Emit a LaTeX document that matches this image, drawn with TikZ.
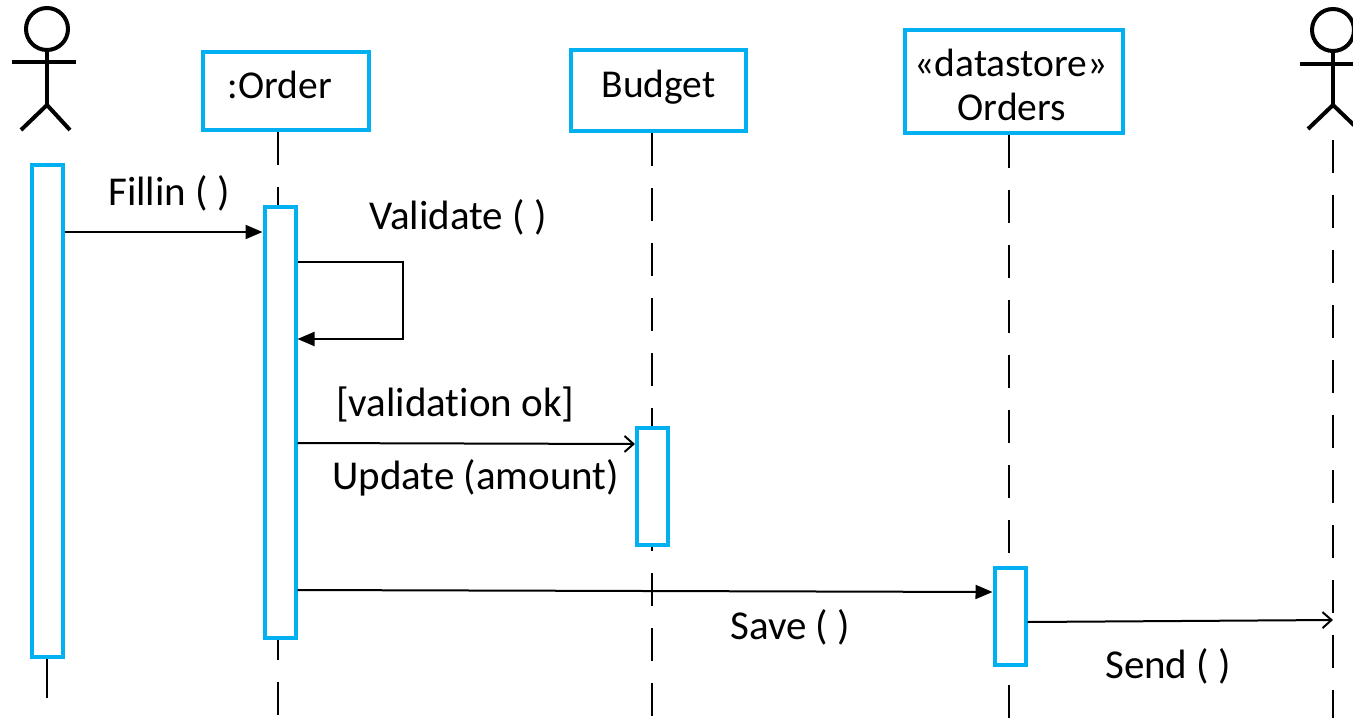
\documentclass[tikz,border=0pt]{standalone}
\usepackage{fontspec}
\setmainfont[Ligatures={NoCommon}]{Carlito}
\usetikzlibrary{arrows.meta}
\definecolor{umlblue}{HTML}{00B0F0}
\tikzset{
  obj/.style={draw=umlblue, line width=4pt, fill=white, inner sep=0pt},
  objtxt/.style={font=\fontsize{39.5}{44}\selectfont, inner sep=0pt, anchor=base},
  act/.style={draw=umlblue, line width=4pt, fill=white, inner sep=0pt, minimum width=31pt},
  life/.style={black, line width=2pt, dash pattern=on 33pt off 22pt},
  msg/.style={black, line width=2pt},
  lbl/.style={font=\fontsize{41}{46}\selectfont, inner sep=0pt, anchor=base west},
  sync/.style={msg, -{Triangle[length=17pt,width=14pt]}},
  async/.style={msg, -{Straight Barb[length=9pt,width=16pt,line width=2pt]}},
  stick/.style={black, line width=4pt}
}
\begin{document}
\begin{tikzpicture}[x=1pt,y=-1pt]
\useasboundingbox (0,0) rectangle (1353,718);
% actors
\coordinate (a1) at (47,0);
\draw[stick] ([shift={(0,29)}]a1) circle[radius=21];
\draw[stick] ([shift={(-35,62)}]a1) -- ([shift={(29,62)}]a1);
\draw[stick] ([shift={(0,50)}]a1) -- ([shift={(0,105)}]a1);
\draw[stick] ([shift={(-26,130)}]a1) -- ([shift={(0,105)}]a1) -- ([shift={(23,130)}]a1);
\coordinate (a2) at (1333,0);
\draw[stick] ([shift={(0,30)}]a2) circle[radius=21];
\draw[stick] ([shift={(-33,64)}]a2) -- ([shift={(33,64)}]a2);
\draw[stick] ([shift={(0,51)}]a2) -- ([shift={(0,105)}]a2);
\draw[stick] ([shift={(-25,129)}]a2) -- ([shift={(0,105)}]a2) -- ([shift={(25,129)}]a2);
% object boxes
\node[obj, minimum width=166pt, minimum height=78pt] (order) at (286,91) {};
\node[objtxt] (ordert) at (280,98) {:Order};
\node[obj, minimum width=175pt, minimum height=81pt] (budget) at (658.5,90.5) {};
\node[objtxt] (budgett) at (658.5,97) {Budget};
\node[obj, minimum width=218pt, minimum height=103pt] (store) at (1014,81.5) {};
\node[objtxt] (storet1) at (1011,76) {«datastore»};
\node[objtxt] (storet2) at (1012,120) {Orders};
% lifelines
\coordinate (oEnd) at (278,718);
\coordinate (bEnd) at (652,718);
\coordinate (sEnd) at (1009,718);
\coordinate (a2top) at (1333,140);
\coordinate (a2End) at (1333,718);
\coordinate (a1top) at (47,657);
\coordinate (a1End) at (47,698);
\draw[life] (order.south -| oEnd) -- (oEnd);
\draw[life] (budget.south -| bEnd) -- (bEnd);
\draw[life] (store.south -| sEnd) -- (sEnd);
\draw[life] (a2top) -- (a2End);
\draw[black, line width=2pt] (a1top) -- (a1End);
% activations
\node[act, minimum height=492pt] (act1) at (47,411) {};
\node[act, minimum height=431pt] (act2) at (280,422.5) {};
\node[act, minimum height=117pt] (act3) at (652.5,486.5) {};
\node[act, minimum height=97pt] (act4) at (1010,616.5) {};
% messages
\draw[sync] (act1.east |- 0,232) -- (act2.west |- 0,232);
\node[lbl] (l1) at (108,205) {Fillin ( )};
\coordinate (s1) at (403,262);
\coordinate (s2) at (403,339);
\draw[sync] (act2.east |- s1) -- (s1) -- (s2) -- (act2.east |- s2);
\node[lbl] (l2) at (369,229) {Validate ( )};
\node[lbl] (l3) at (336,416) {[validation ok]};
\draw[async] (act2.east |- 0,443) -- (act3.west |- 0,444);
\node[lbl] (l4) at (332,489) {Update (amount)};
\draw[sync] (act2.east |- 0,590) -- (act4.west |- 0,592);
\node[lbl] (l5) at (730,639) {Save ( )};
\draw[async] (act4.east |- 0,622) -- (a2End |- 0,620);
\node[lbl] (l6) at (1105,678) {Send ( )};
\end{tikzpicture}
\end{document}
